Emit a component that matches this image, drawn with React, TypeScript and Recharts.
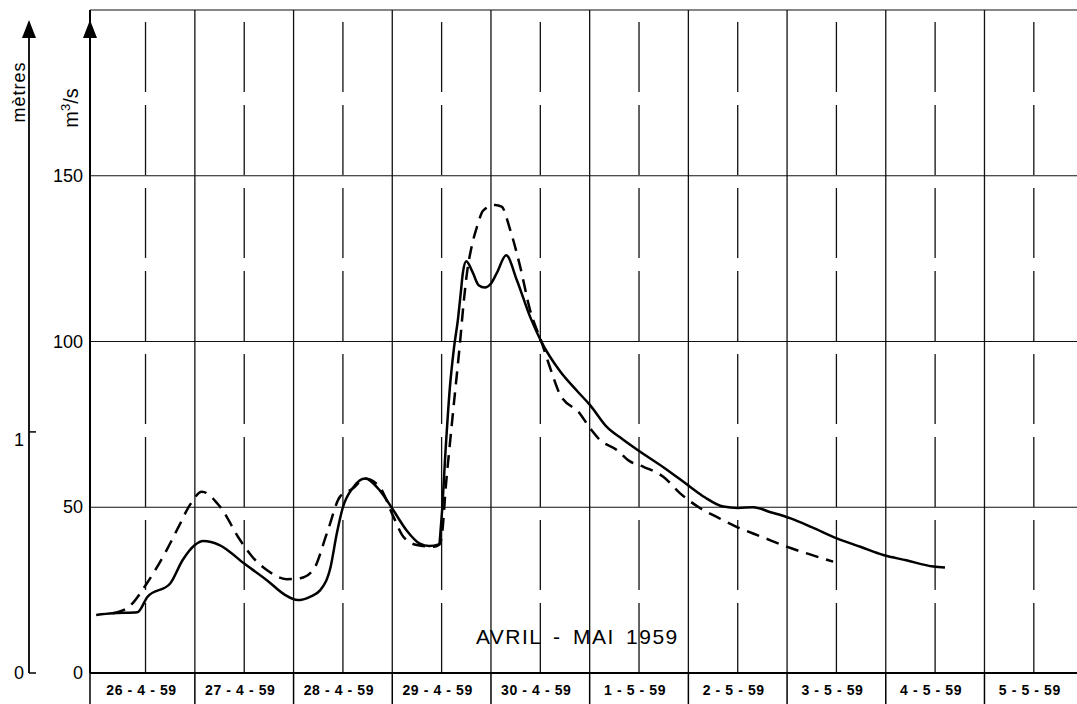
import React from 'react';
import { LineChart, Line, XAxis, YAxis, ReferenceLine, ReferenceDot } from 'recharts';

// hours since 26-4-59 00:00 and discharge (m3/s)
const solidHours = [0, 4, 10, 12.5, 18, 21, 24, 26, 30, 36, 41.5, 46, 49, 52, 54.5, 57, 58.5, 60, 62.5, 65.4, 69, 72.3, 75.5, 78.7, 81, 83.3, 84, 85, 86, 87, 88, 88.6, 89.2, 90, 91.5, 93, 94.5, 96, 97.4, 99.7, 102.3, 105.5, 108.3, 112.8, 117, 120.1, 124.1, 128, 132.2, 138, 144.4, 148, 152.5, 156, 159.8, 164, 168.7, 174, 180.1, 186, 191.4, 197, 203.6, 206.4];
const solidValues = [17.5, 18, 18.3, 23, 27, 34, 38.6, 39.8, 38.6, 33, 28, 23.5, 22, 23, 25, 32, 42, 50, 56, 58.7, 55, 49, 43, 39, 38.3, 38.8, 47, 68, 86, 98, 107, 114, 121, 124.2, 121, 117, 116.3, 117.5, 120.6, 126, 118.5, 107.5, 99.8, 91, 85, 80.8, 74.3, 70.5, 66.8, 62, 56.2, 53, 50.2, 49.8, 50, 48.5, 46.7, 44, 40.6, 38, 35.6, 34, 32.1, 31.8];
const dashedHours = [4, 8, 12.3, 17.1, 20, 22.8, 25.7, 30.1, 35, 38, 41.5, 46.3, 49.6, 52.8, 56.1, 59.3, 62.5, 65.4, 69, 72.3, 74.7, 78, 82, 83.5, 84.2, 85, 86, 86.8, 87.7, 88.5, 89.3, 90.2, 91.3, 92.7, 94.1, 97, 98.6, 100.6, 103.1, 105.5, 108.3, 110.4, 112.8, 117.6, 120, 122.5, 126.6, 129.6, 133.1, 137.9, 142, 146.9, 151, 155.7, 162, 167.9, 173, 179.2];
const dashedValues = [18, 20, 27, 37, 44, 50.7, 54.7, 50.2, 40.1, 35, 31.1, 28.3, 28.6, 31.1, 42.1, 53.2, 55.7, 58.7, 56, 47.1, 41.1, 38.6, 38.1, 38.8, 43, 56, 69, 79, 90, 100, 111, 121, 128.6, 135, 139.5, 141.2, 140.7, 134, 122.6, 109.5, 99.8, 92, 84, 78.3, 74, 70.3, 67.3, 64, 62.2, 59.2, 54.2, 49.7, 47, 44.1, 41, 38.1, 36, 33.6];

const dayLabels = ['26 - 4 - 59', '27 - 4 - 59', '28 - 4 - 59', '29 - 4 - 59', '30 - 4 - 59', '1 - 5 - 59', '2 - 5 - 59', '3 - 5 - 59', '4 - 5 - 59', '5 - 5 - 59'];
const boundaryHours = [24, 48, 72, 96, 120, 144, 168, 192, 216];
const noonHours = [12, 36, 60, 84, 108, 132, 156, 180, 204, 228];
const flowTicks = [0, 50, 100, 150];
const flowGrid = [50, 100, 150, 200];
const levelTicks = [0, 1];
const title = 'AVRIL - MAI 1959';

const X_MIN = -1.5;
const X_MAX = 238.5;

const solidData = solidHours.map((h, i) => ({ h, v: solidValues[i] }));
const dashedData = dashedHours.map((h, i) => ({ h, v: dashedValues[i] }));
const xTicks = [X_MIN, ...[...boundaryHours, ...noonHours].sort((a, b) => a - b)];

const FONT = '"Liberation Sans", Arial, Helvetica, sans-serif';

const DayTick = (props: any) => {
  const { x, y, payload } = props;
  const v = payload.value;
  const idx = noonHours.indexOf(v);
  if (idx >= 0) {
    return (
      <text x={x - 4} y={y + 22} textAnchor="middle" fontSize={14} letterSpacing={0.6} fontWeight="bold" fontFamily={FONT} fill="#000">
        {dayLabels[idx]}
      </text>
    );
  }
  return <line x1={x} x2={x} y1={y} y2={y + 31} stroke="#000" strokeWidth={1.5} />;
};

const FlowTick = (props: any) => {
  const { x, y, payload } = props;
  return (
    <text x={x} y={y} dy={6} textAnchor="end" fontSize={18} fontFamily={FONT} fill="#000">
      {payload.value}
    </text>
  );
};

const LevelTick = (props: any) => {
  const { x, y, payload } = props;
  return (
    <g>
      <line x1={x + 5} x2={x + 12} y1={y} y2={y} stroke="#000" strokeWidth={1.5} />
      <text x={x} y={y} dy={payload.value === 0 ? 6 : 14} textAnchor="end" fontSize={18} fontFamily={FONT} fill="#000">
        {payload.value}
      </text>
    </g>
  );
};

const FlowAxisLabel = (props: any) => {
  const { viewBox } = props;
  const ax = viewBox.x + viewBox.width;
  const top = viewBox.y;
  return (
    <g>
      <polygon points={`${ax},${top + 10} ${ax - 7},${top + 28} ${ax + 7},${top + 28}`} fill="#000" />
      <text transform={`translate(${ax - 12},${top + 98}) rotate(-90)`} textAnchor="middle" fontSize={20} fontFamily={FONT} fill="#000">
        m<tspan dy={-8} fontSize={13}>3</tspan><tspan dy={8}>/s</tspan>
      </text>
    </g>
  );
};

const LevelAxisLabel = (props: any) => {
  const { viewBox } = props;
  const ax = viewBox.x + viewBox.width;
  const top = viewBox.y;
  const bottom = viewBox.y + viewBox.height;
  return (
    <g>
      <line x1={ax} x2={ax} y1={top + 12} y2={bottom} stroke="#000" strokeWidth={1.8} />
      <polygon points={`${ax},${top + 10} ${ax - 7},${top + 28} ${ax + 7},${top + 28}`} fill="#000" />
      <text transform={`translate(${ax - 4},${top + 82}) rotate(-90)`} textAnchor="middle" fontSize={18} letterSpacing={1} fontFamily={FONT} fill="#000">
        mètres
      </text>
    </g>
  );
};

const TitleLabel = (props: any) => {
  const { viewBox } = props;
  const cx = viewBox.x + (viewBox.width || 0) / 2;
  const cy = viewBox.y + (viewBox.height || 0) / 2;
  return (
    <text x={cx} y={cy} dy={7} textAnchor="middle" fontSize={21} letterSpacing={1.5} wordSpacing={4} fontFamily={FONT} fill="#000">
      {title}
    </text>
  );
};

export default function App() {
  return (
    <div style={{ position: 'absolute', left: 0, top: 0, width: 1077, height: 704, background: '#fff' }}>
      <LineChart width={1077} height={704} data={solidData} margin={{ top: 10, right: 0, bottom: 0, left: 0 }}>
        <XAxis
          dataKey="h"
          type="number"
          domain={[X_MIN, X_MAX]}
          ticks={xTicks}
          interval={0}
          allowDataOverflow
          height={31}
          tickSize={0}
          tickMargin={0}
          tickLine={false}
          axisLine={{ stroke: '#000', strokeWidth: 2 }}
          tick={<DayTick />}
        />
        <YAxis
          yAxisId={0}
          type="number"
          domain={[0, 200]}
          allowDataOverflow
          ticks={flowTicks}
          interval={0}
          width={61}
          tickSize={0}
          tickMargin={7}
          tickLine={false}
          axisLine={{ stroke: '#000', strokeWidth: 2 }}
          tick={<FlowTick />}
          label={<FlowAxisLabel />}
        />
        <YAxis
          yAxisId="m"
          type="number"
          domain={[0, 2.75]}
          allowDataOverflow
          ticks={levelTicks}
          interval={0}
          width={29}
          tickSize={0}
          tickMargin={5}
          tickLine={false}
          axisLine={false}
          tick={<LevelTick />}
          label={<LevelAxisLabel />}
        />
        {flowGrid.map((v) => (
          <ReferenceLine key={`hg${v}`} y={v} stroke="#111" strokeWidth={1.2} />
        ))}
        {boundaryHours.map((h) => (
          <ReferenceLine key={`vb${h}`} x={h} stroke="#111" strokeWidth={1.3} />
        ))}
        {noonHours.map((h) => (
          <ReferenceLine key={`vn${h}`} x={h} stroke="#111" strokeWidth={1.3} strokeDasharray="70 13" />
        ))}
        <ReferenceDot x={117} y={11} r={0} fill="none" stroke="none" label={<TitleLabel />} />
        <Line data={solidData} dataKey="v" type="monotone" stroke="#000" strokeWidth={2.5} dot={false} isAnimationActive={false} />
        <Line data={dashedData} dataKey="v" type="monotone" stroke="#000" strokeWidth={2.5} strokeDasharray="13 8" dot={false} isAnimationActive={false} />
      </LineChart>
    </div>
  );
}
